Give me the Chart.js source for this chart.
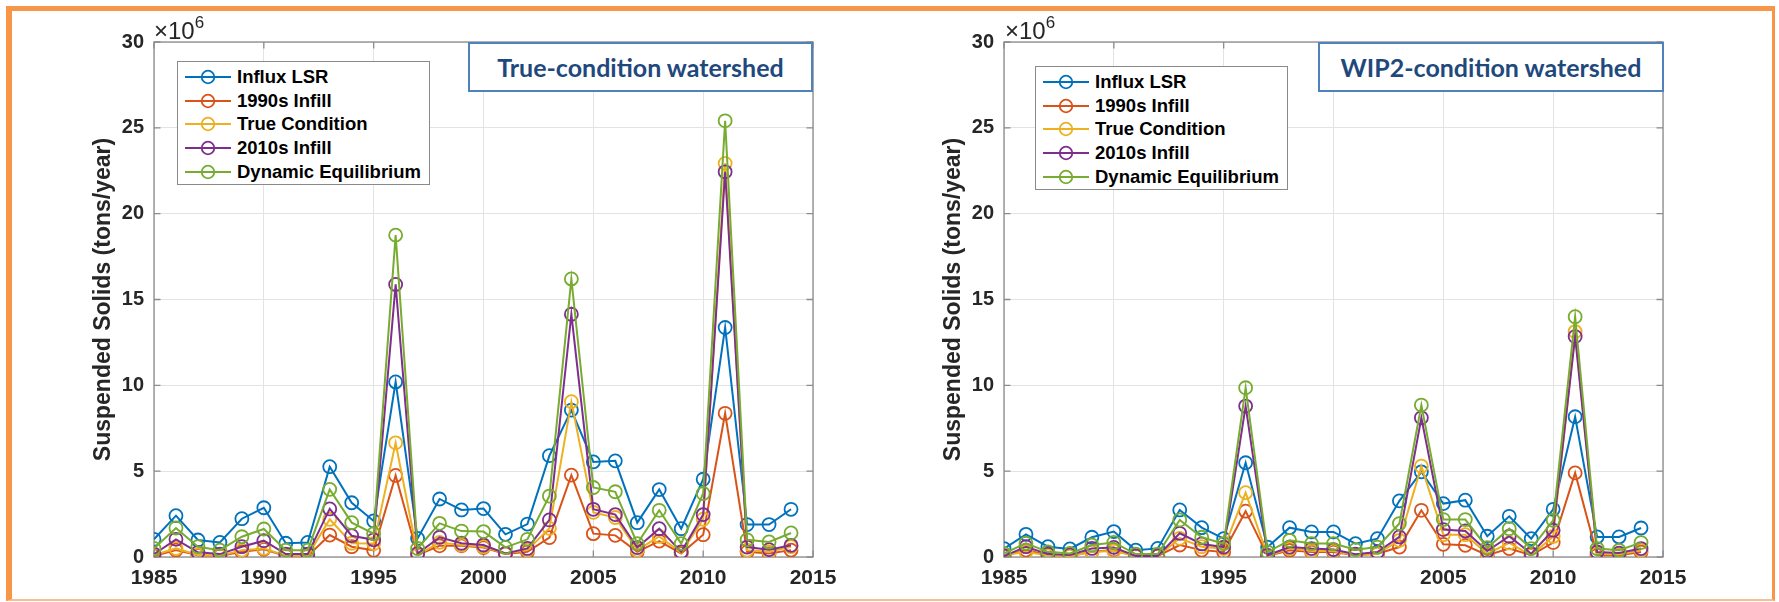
<!DOCTYPE html>
<html>
<head>
<meta charset="utf-8">
<script src="https://cdn.jsdelivr.net/npm/chart.js@4.4.1/dist/chart.umd.min.js"></script>
<style>
  html, body { margin: 0; padding: 0; background: #ffffff; }
  body { width: 1779px; height: 602px; position: relative; overflow: hidden; font-family: "Liberation Sans", Arial, sans-serif; }
  .frame { position: absolute; left: 6px; top: 6px; width: 1769px; height: 595px; box-sizing: border-box;
           border-style: solid; border-color: #F79646; border-width: 5px 3px 2px 6px; border-bottom-color: #F9BE92;
           pointer-events: none; z-index: 10; }
  canvas.panel { position: absolute; top: 0; }
  .legend { position: absolute; width: 253px; height: 124px; box-sizing: border-box; border: 1.3px solid #8a8a8a; background: #fff; z-index: 3; }
  .legend .row { position: absolute; left: 0; height: 24px; width: 100%; }
  .legend .row svg { position: absolute; left: 0; top: 0; }
  .legend .row span { position: absolute; left: 59px; top: 0; line-height: 24px; font-weight: bold; font-size: 18.5px; color: #000; white-space: nowrap; }
  .tbox { position: absolute; top: 42px; height: 50px; box-sizing: border-box; border: 2.5px solid #4F81BD; background: #fff;
          color: #1F497D; font-family: Lato, "Open Sans", sans-serif; font-weight: bold; font-size: 25px;
          display: flex; align-items: center; justify-content: center; z-index: 3; }
  .expo { position: absolute; top: 11px; font-size: 24px; line-height: 28px; color: #262626; z-index: 3; }
  .expo sup { font-size: 17px; position: relative; top: -2px; }
</style>
</head>
<body>
<div class="frame"></div>

<canvas id="cLeft" class="panel" width="850" height="602" style="left:0px"></canvas>
<canvas id="cRight" class="panel" width="850" height="602" style="left:850px"></canvas>

<div class="expo" style="left:154px">&times;10<sup>6</sup></div>
<div class="expo" style="left:1005px">&times;10<sup>6</sup></div>

<div class="tbox" id="tLeft" style="left:468px; width:345px;"></div>
<div class="tbox" id="tRight" style="left:1318px; width:346px;"></div>

<div class="legend" id="legLeft" style="left:177px; top:61px;"></div>
<div class="legend" id="legRight" style="left:1035px; top:66px;"></div>

<script>
// ---------------- DATA (suspended solids, 10^6 tons/year) ----------------
const years = [1985,1986,1987,1988,1989,1990,1991,1992,1993,1994,1995,1996,1997,1998,1999,
               2000,2001,2002,2003,2004,2005,2006,2007,2008,2009,2010,2011,2012,2013,2014];

const seriesNames = ['Influx LSR', '1990s Infill', 'True Condition', '2010s Infill', 'Dynamic Equilibrium'];
const seriesColors = ['#0072BD', '#D95319', '#EDB120', '#7E2F8E', '#77AC30'];

const xTicks = [1985, 1990, 1995, 2000, 2005, 2010, 2015];
const yTicks = [0, 5, 10, 15, 20, 25, 30];

const panelTitles = ['True-condition watershed', 'WIP2-condition watershed'];
const yAxisTitle = 'Suspended Solids (tons/year)';

// True-condition watershed
const influxLSR_true   = [1.03,2.41,0.99,0.85,2.23,2.87,0.80,0.85,5.26,3.16,2.10,10.20,1.08,3.38,2.74,2.82,1.32,1.92,5.90,8.56,5.54,5.60,2.00,3.93,1.65,4.53,13.37,1.89,1.89,2.78];
const infill1990_true  = [0.06,0.40,0.10,0.06,0.30,0.45,0.06,0.06,1.28,0.60,0.39,4.75,0.12,0.65,0.65,0.55,0.18,0.30,1.13,4.77,1.36,1.26,0.30,0.93,0.20,1.30,8.37,0.30,0.20,0.40];
const trueCond_true    = [0.12,0.50,0.12,0.08,0.40,0.50,0.08,0.08,2.20,0.80,0.78,6.65,0.12,0.85,0.70,0.60,0.20,0.40,1.67,9.05,2.60,2.30,0.40,1.20,0.25,2.20,22.93,0.40,0.30,0.60];
const infill2010_true  = [0.17,1.03,0.27,0.17,0.60,0.95,0.17,0.17,2.80,1.24,1.00,15.88,0.20,1.15,0.80,0.70,0.21,0.50,2.16,14.14,2.78,2.47,0.55,1.65,0.30,2.47,22.44,0.58,0.43,0.68];
const dynEq_true       = [0.50,1.69,0.60,0.40,1.18,1.63,0.40,0.40,3.94,2.00,1.36,18.75,0.50,1.96,1.51,1.48,0.56,1.03,3.55,16.20,4.05,3.80,0.78,2.72,0.78,3.70,25.41,1.00,0.88,1.40];

// WIP2-condition watershed
const influxLSR_wip    = [0.49,1.32,0.60,0.47,1.15,1.48,0.40,0.50,2.74,1.71,1.07,5.49,0.58,1.71,1.46,1.46,0.78,1.07,3.27,4.96,3.11,3.31,1.21,2.37,1.07,2.78,8.17,1.17,1.17,1.69];
const infill1990_wip   = [0.06,0.40,0.10,0.06,0.30,0.40,0.06,0.06,0.70,0.40,0.29,2.67,0.06,0.39,0.29,0.29,0.10,0.19,0.58,2.72,0.74,0.68,0.10,0.49,0.10,0.84,4.90,0.10,0.10,0.29];
const trueCond_wip     = [0.10,0.30,0.08,0.05,0.30,0.35,0.05,0.05,1.09,0.60,0.49,3.75,0.06,0.49,0.35,0.35,0.10,0.19,0.97,5.29,1.30,1.30,0.19,0.82,0.10,1.20,13.13,0.19,0.15,0.39];
const infill2010_wip   = [0.06,0.60,0.17,0.12,0.50,0.56,0.06,0.06,1.38,0.76,0.58,8.79,0.10,0.58,0.49,0.43,0.16,0.29,1.17,8.11,1.60,1.52,0.35,1.21,0.19,1.56,12.84,0.29,0.23,0.49];
const dynEq_wip        = [0.21,0.80,0.30,0.21,0.70,0.85,0.17,0.17,2.16,1.15,0.78,9.86,0.29,0.97,0.78,0.78,0.43,0.58,1.95,8.85,2.18,2.18,0.54,1.65,0.49,2.14,14.00,0.49,0.39,0.84];

// ---------------- STYLE ----------------
const AXIS_COLOR = '#8c8c8c';
const GRID_COLOR = '#e3e3e3';
const TICK_COLOR = '#262626';
const FONT = '"Liberation Sans", Arial, sans-serif';

const boxPlugin = {
  id: 'matlabBox',
  beforeDatasetsDraw(chart) {
    const { ctx, chartArea: a, scales } = chart;
    const x = scales.x, y = scales.y;
    ctx.save();
    ctx.strokeStyle = AXIS_COLOR;
    ctx.lineWidth = 1.3;
    ctx.strokeRect(a.left, a.top, a.right - a.left, a.bottom - a.top);
    const tl = 6.5;
    ctx.beginPath();
    x.ticks.forEach(t => {
      const px = x.getPixelForValue(t.value);
      ctx.moveTo(px, a.bottom); ctx.lineTo(px, a.bottom - tl);
      ctx.moveTo(px, a.top); ctx.lineTo(px, a.top + tl);
    });
    y.ticks.forEach(t => {
      const py = y.getPixelForValue(t.value);
      ctx.moveTo(a.left, py); ctx.lineTo(a.left + tl, py);
      ctx.moveTo(a.right, py); ctx.lineTo(a.right - tl, py);
    });
    ctx.stroke();
    ctx.restore();
  }
};

function makeDatasets(seriesList) {
  return seriesList.map((vals, i) => ({
    label: seriesNames[i],
    data: years.map((yr, k) => ({ x: yr, y: vals[k] })),
    borderColor: seriesColors[i],
    backgroundColor: 'rgba(0,0,0,0)',
    pointBorderColor: seriesColors[i],
    pointBackgroundColor: 'rgba(0,0,0,0)',
    pointStyle: 'circle',
    pointRadius: 6.5,
    pointBorderWidth: 1.8,
    borderWidth: 2,
    tension: 0,
    fill: false,
    order: -i
  }));
}

function makeChart(canvasId, seriesList) {
  return new Chart(document.getElementById(canvasId), {
    type: 'line',
    data: { datasets: makeDatasets(seriesList) },
    plugins: [boxPlugin],
    options: {
      responsive: false,
      animation: false,
      devicePixelRatio: 1,
      layout: { padding: { left: 90, right: 37, top: 42, bottom: 0 } },
      plugins: { legend: { display: false }, tooltip: { enabled: false } },
      scales: {
        x: {
          type: 'linear',
          min: xTicks[0], max: xTicks[xTicks.length - 1],
          afterBuildTicks(s) { s.ticks = xTicks.map(v => ({ value: v })); },
          afterFit(s) { s.height = 45; },
          ticks: {
            callback: v => String(v),
            font: { family: FONT, size: 21, weight: 'bold' },
            color: TICK_COLOR, padding: 9, maxRotation: 0, autoSkip: false
          },
          grid: { color: GRID_COLOR, lineWidth: 1, drawTicks: false },
          border: { display: false }
        },
        y: {
          type: 'linear',
          min: yTicks[0], max: yTicks[yTicks.length - 1],
          afterBuildTicks(s) { s.ticks = yTicks.map(v => ({ value: v })); },
          afterFit(s) { s.width = 64; },
          ticks: {
            callback: v => String(v),
            font: { family: FONT, size: 20, weight: 'bold' },
            color: TICK_COLOR, padding: 10
          },
          grid: { color: GRID_COLOR, lineWidth: 1, drawTicks: false },
          border: { display: false },
          title: {
            display: true, text: yAxisTitle,
            font: { family: FONT, size: 23, weight: 'bold' },
            color: TICK_COLOR, padding: { top: 0, bottom: 0 }
          }
        }
      }
    }
  });
}

makeChart('cLeft',  [influxLSR_true, infill1990_true, trueCond_true, infill2010_true, dynEq_true]);
makeChart('cRight', [influxLSR_wip,  infill1990_wip,  trueCond_wip,  infill2010_wip,  dynEq_wip]);

document.getElementById('tLeft').textContent = panelTitles[0];
document.getElementById('tRight').textContent = panelTitles[1];

// HTML legends built from the series arrays
function buildLegend(id) {
  const el = document.getElementById(id);
  seriesNames.forEach((name, i) => {
    const row = document.createElement('div');
    row.className = 'row';
    row.style.top = (3 + i * 23.7) + 'px';
    const c = seriesColors[i];
    row.innerHTML =
      '<svg width="58" height="24"><line x1="7" y1="12" x2="53" y2="12" stroke="' + c + '" stroke-width="2"/>' +
      '<circle cx="30" cy="12" r="6.3" fill="none" stroke="' + c + '" stroke-width="1.8"/></svg>';
    const sp = document.createElement('span');
    sp.textContent = name;
    row.appendChild(sp);
    el.appendChild(row);
  });
}
buildLegend('legLeft');
buildLegend('legRight');
</script>
</body>
</html>
